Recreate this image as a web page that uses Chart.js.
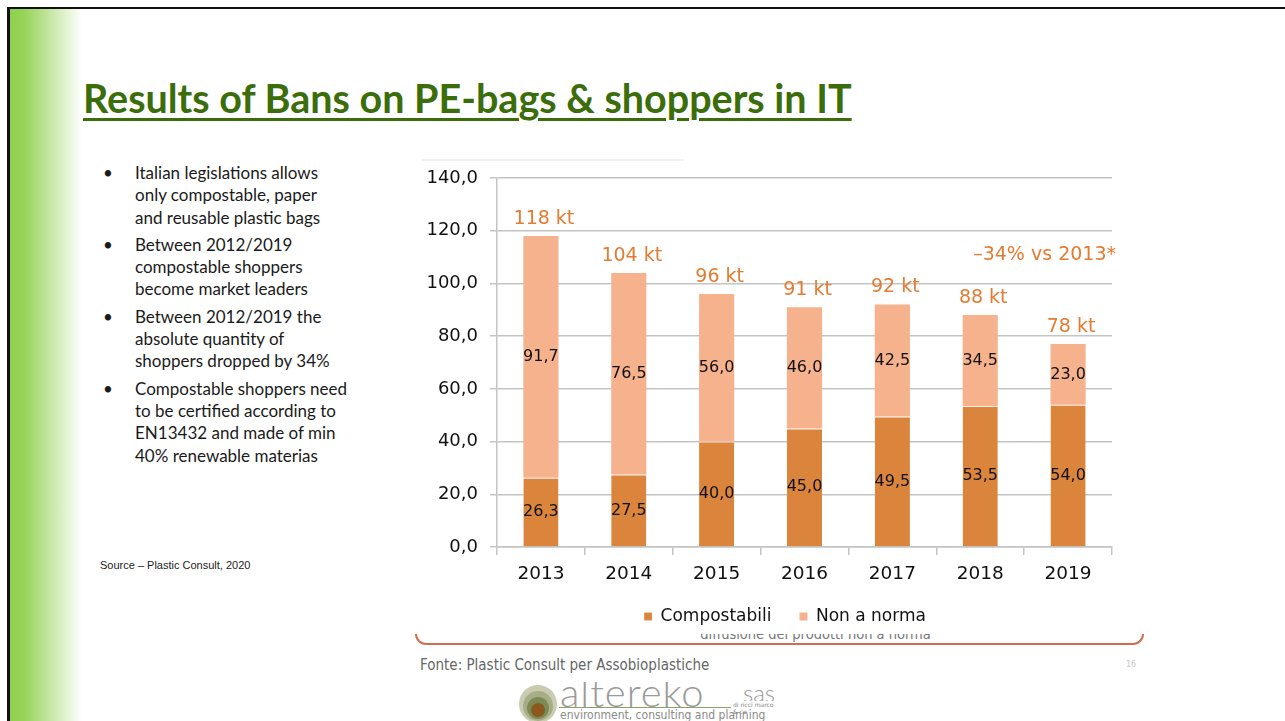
<!DOCTYPE html>
<html>
<head>
<meta charset="utf-8">
<script src="https://cdn.jsdelivr.net/npm/chart.js@4.4.1/dist/chart.umd.min.js"></script>
<style>
    html, body { margin: 0; padding: 0; background: #fff; }
    body { width: 1285px; height: 721px; position: relative; overflow: hidden; font-family: Lato, "Open Sans", sans-serif; }
    .frame-top { position: absolute; left: 8px; top: 7px; width: 1277px; height: 2px; background: #111; }
    .frame-left { position: absolute; left: 7px; top: 7px; width: 3px; height: 714px; background: #111; }
    .green-band {
        position: absolute; left: 10px; top: 9px; width: 72px; height: 712px;
        background: linear-gradient(to right, #8fcf4d 0%, #97d359 20%, #c4e6a2 55%, #ffffff 100%);
    }
    .title {
        position: absolute; left: 83px; top: 74px; margin: 0;
        font: bold 39.5px Lato, sans-serif; color: #3b6e0b;
        text-decoration: underline; text-decoration-thickness: 3px; text-underline-offset: 5px;
        white-space: nowrap;
    }
    .bullets { position: absolute; left: 100px; top: 162px; margin: 0; padding: 0; list-style: none; width: 300px; }
    .bullets li { position: relative; padding-left: 35px; font-size: 17px; line-height: 22.3px; color: #1a1a1a; margin-bottom: 5px; white-space: nowrap; }
    .bullets li::before { content: "•"; position: absolute; left: 3px; top: 0; }
    .source { position: absolute; left: 100px; top: 559px; font: 11px "Liberation Sans", Arial, sans-serif; color: #222; }
    .chart-box { position: absolute; left: 400px; top: 150px; width: 780px; height: 487px; }
    .ghost-line { position: absolute; left: 422px; top: 159px; width: 262px; height: 2px; background: #f1f1f1; }
    .bracket {
        position: absolute; left: 415px; top: 634px; width: 725px; height: 9px;
        border: 2px solid #d36c4f; border-top: none; border-radius: 0 0 14px 14px; overflow: hidden;
    }
    .bracket span {
        position: absolute; left: 36px; width: 100%; top: -8px; text-align: center;
        font: 14.5px "DejaVu Sans Condensed", sans-serif; color: #777; white-space: nowrap;
    }
    .fonte { position: absolute; left: 420px; top: 656px; font: 15px "DejaVu Sans Condensed", sans-serif; color: #666; }
    .page-no { position: absolute; left: 1126px; top: 660px; font: 8px "DejaVu Sans", sans-serif; color: #c8c8c8; }
    .logo { position: absolute; left: 519px; top: 682px; width: 260px; height: 39px; overflow: hidden; }
    .logo .ring { position: absolute; border-radius: 50%; }
    .logo .name { position: absolute; left: 41px; top: -14px; font: 300 40px Lato, sans-serif; color: #9a9a9a; letter-spacing: 1px; }
    .logo .sas { position: absolute; left: 224px; top: -4px; font: 300 24px Lato, sans-serif; color: #9a9a9a; }
    .logo .rule { position: absolute; left: 40px; top: 25px; width: 214px; height: 1px; background: #8aa26a; }
    .logo .tiny { position: absolute; left: 212px; top: 19px; font: 6px "DejaVu Sans", sans-serif; color: #888; background: #fff; padding: 0 2px; }
    .logo .tag { position: absolute; left: 41px; top: 26px; font: 12px "DejaVu Sans Condensed", sans-serif; color: #8a8a8a; white-space: nowrap; }
</style>
</head>
<body>
<div class="frame-top"></div>
<div class="frame-left"></div>
<div class="green-band"></div>

<h1 class="title">Results of Bans on PE-bags &amp; shoppers in IT</h1>

<ul class="bullets">
    <li>Italian legislations allows<br>only compostable, paper<br>and reusable plastic bags</li>
    <li>Between 2012/2019<br>compostable shoppers<br>become market leaders</li>
    <li>Between 2012/2019 the<br>absolute quantity of<br>shoppers dropped by 34%</li>
    <li>Compostable shoppers need<br>to be certified according to<br>EN13432 and made of min<br>40% renewable materias</li>
</ul>
<div class="source">Source – Plastic Consult, 2020</div>

<div class="ghost-line"></div>
<div class="bracket"><span>diffusione dei prodotti non a norma</span></div>
<div class="chart-box"><canvas id="chart"></canvas></div>

<div class="fonte">Fonte: Plastic Consult per Assobioplastiche</div>
<div class="page-no">16</div>

<div class="logo">
    <div class="ring" style="left:0;top:3px;width:38px;height:38px;background:#c9ccb0;"></div>
    <div class="ring" style="left:4px;top:9px;width:30px;height:30px;background:#a7ae86;"></div>
    <div class="ring" style="left:8px;top:15px;width:22px;height:22px;background:#7d8a58;"></div>
    <div class="ring" style="left:12px;top:21px;width:14px;height:14px;background:#8a5a1c;"></div>
    <div class="name">altereko</div>
    <div class="sas">sas</div>
    <div class="rule"></div>
    <div class="tiny">di ricci marco &amp; co</div>
    <div class="tag">environment, consulting and planning</div>
</div>

<script>
    // ===== Data =====
    const years = ["2013", "2014", "2015", "2016", "2017", "2018", "2019"];
    const compostabili = [26.3, 27.5, 40.0, 45.0, 49.5, 53.5, 54.0];
    const nonANorma = [91.7, 76.5, 56.0, 46.0, 42.5, 34.5, 23.0];
    const totalLabels = ["118 kt", "104 kt", "96 kt", "91 kt", "92 kt", "88 kt", "78 kt"];
    const yTicks = [0, 20, 40, 60, 80, 100, 120, 140];
    const note = "–34% vs 2013*";

    const DARK = "#da843c";
    const LIGHT = "#f6b28c";
    const ORANGE_TEXT = "#e47b32";
    const GRID = "#c4c4c4";
    const SANS = '"DejaVu Sans", sans-serif';

    const fmt = v => v.toFixed(1).replace(".", ",");

    // values inside the segments + totals above the stacks
    const barLabels = {
        id: "barLabels",
        afterLayout(chart) {
            // legend sits a bit right of the plot centre in the original
            chart.legend.left += 29;
            chart.legend.right += 29;
        },
        afterDatasetsDraw(chart) {
            const ctx = chart.ctx;
            ctx.save();
            ctx.textAlign = "center";
            ctx.textBaseline = "middle";
            ctx.font = '16px "DejaVu Sans"';
            ctx.fillStyle = "#111";
            chart.data.datasets.forEach((ds, i) => {
                chart.getDatasetMeta(i).data.forEach((bar, j) => {
                    ctx.fillText(fmt(ds.data[j]), bar.x, (bar.y + bar.base) / 2);
                });
            });
            ctx.font = '19px "DejaVu Sans"';
            ctx.fillStyle = ORANGE_TEXT;
            chart.getDatasetMeta(1).data.forEach((bar, j) => {
                ctx.fillText(totalLabels[j], bar.x + 3, bar.y - 17);
            });
            ctx.textAlign = "right";
            ctx.fillText(note, chart.chartArea.right + 4, chart.scales.y.getPixelForValue(110.8));
            ctx.restore();
        }
    };

    new Chart(document.getElementById("chart"), {
        type: "bar",
        data: {
            labels: years,
            datasets: [
                { label: "Compostabili", data: compostabili, backgroundColor: DARK,
                  borderColor: "#fbeee4", borderWidth: { top: 1, left: 0, right: 0, bottom: 0 }, borderSkipped: false },
                { label: "Non a norma", data: nonANorma, backgroundColor: LIGHT, borderWidth: 0 }
            ]
        },
        options: {
            responsive: true,
            maintainAspectRatio: false,
            animation: false,
            datasets: { bar: { barPercentage: 0.4, categoryPercentage: 1 } },
            layout: { padding: { top: 28, right: 68, left: 0, bottom: 2 } },
            plugins: {
                tooltip: { enabled: false },
                legend: {
                    position: "bottom",
                    labels: {
                        boxWidth: 8, boxHeight: 8, padding: 28, color: "#111",
                        font: { family: SANS, size: 17 }
                    }
                }
            },
            scales: {
                x: {
                    stacked: true,
                    grid: { display: true, drawOnChartArea: false, color: GRID, lineWidth: 1.5, tickLength: 8 },
                    border: { color: GRID, width: 1.5 },
                    ticks: { color: "#111", padding: 8, font: { family: SANS, size: 18.5 } },
                    afterFit(scale) { scale.height = 33; }
                },
                y: {
                    stacked: true,
                    min: 0, max: 140,
                    afterBuildTicks(scale) { scale.ticks = yTicks.map(v => ({ value: v })); },
                    grid: { color: GRID, lineWidth: 1.5, tickLength: 7 },
                    border: { color: GRID, width: 1.5 },
                    ticks: { color: "#111", padding: 12, callback: v => fmt(v), font: { family: SANS, size: 18 } },
                    afterFit(scale) { scale.width = 97; }
                }
            }
        },
        plugins: [barLabels]
    });
</script>
</body>
</html>
